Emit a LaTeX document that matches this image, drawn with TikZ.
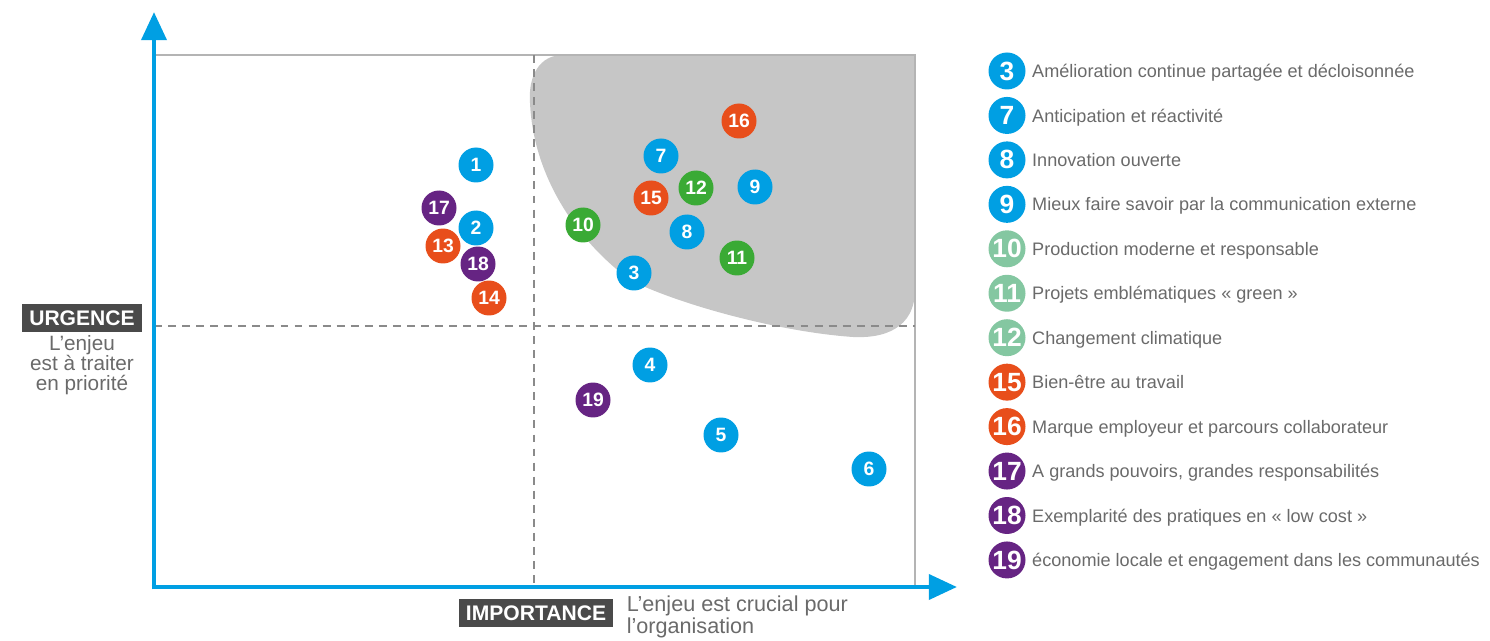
\documentclass[tikz,border=0pt]{standalone}
\usepackage{fontspec}
\setmainfont{Liberation Sans}
\usepackage{xcolor}
\usepackage{tikz}
\usetikzlibrary{positioning,arrows.meta}

\definecolor{axisblue}{HTML}{009FE3}
\definecolor{ptblue}{HTML}{009FE3}
\definecolor{ptorange}{HTML}{E84E1B}
\definecolor{ptpurple}{HTML}{662483}
\definecolor{ptgreen}{HTML}{3AAA35}
\definecolor{keygreen}{HTML}{84C7A1}
\definecolor{blobgray}{HTML}{C6C6C6}
\definecolor{framegray}{HTML}{B4B4B4}
\definecolor{dashgray}{HTML}{8A8A8A}
\definecolor{txtgray}{HTML}{6A6A6A}
\definecolor{tagdark}{HTML}{4A4A4A}

\begin{document}
\begin{tikzpicture}
      [ x=0.02cm, y=-0.02cm,
        dot/.style={circle, fill=#1, inner sep=0pt, minimum size=0.7cm,
                    text=white, font=\bfseries\fontsize{11}{11}\selectfont},
        key/.style={circle, fill=#1, inner sep=0pt, minimum size=0.74cm,
                    text=white, font=\bfseries\fontsize{15}{15}\selectfont},
        keytext/.style={right=0.12cm of #1, inner sep=0pt, text=txtgray, yshift=-0.04cm,
                    font=\fontsize{10.3}{12}\selectfont, text height=0.72em, text depth=0.2em},
        tag/.style={fill=tagdark, text=white, font=\bfseries\fontsize{12}{12}\selectfont,
                    inner xsep=4pt, minimum height=0.57cm},
        axis/.style={axisblue, line width=2.8pt, -{Triangle[length=16pt,width=14pt]}},
        guide/.style={dashgray, line width=0.8pt, dash pattern=on 4.5pt off 3.5pt}
      ]
      \useasboundingbox (0,0) rectangle (1490,641);

      % zone prioritaire
      \fill[blobgray] (915,55) -- (563,55)
          .. controls (540,55) and (528,75) .. (530,103)
          .. controls (533,170) and (570,235) .. (630,280)
          .. controls (680,305) and (780,332) .. (853,337)
          .. controls (895,339) and (915,320) .. (915,290) -- cycle;

      \coordinate (O)    at (154,587);
      \coordinate (ytip) at (154,12);
      \coordinate (xtip) at (957,587);
      \coordinate (tl)   at (154,55);
      \coordinate (tr)   at (915,55);
      \coordinate (br)   at (915,587);

      \draw[framegray, line width=1pt] (tl) -- (tr) -- (br);
      \draw[guide] (534,55) -- (534,587);
      \draw[guide] (154,326) -- (915,326);
      \draw[axis] ([yshift=-1.4pt]O) -- (ytip);
      \draw[axis] ([xshift=-1.4pt]O) -- (xtip);

      % enjeux
      \node[dot=ptblue]   (p1)  at (476,165) {1};
      \node[dot=ptpurple] (p17) at (439,208) {17};
      \node[dot=ptblue]   (p2)  at (476,228) {2};
      \node[dot=ptorange] (p13) at (443,246) {13};
      \node[dot=ptpurple] (p18) at (478,264) {18};
      \node[dot=ptorange] (p14) at (489,298) {14};
      \node[dot=ptgreen]  (p10) at (583,225) {10};
      \node[dot=ptblue]   (p3)  at (634,273) {3};
      \node[dot=ptorange] (p16) at (739,121) {16};
      \node[dot=ptblue]   (p7)  at (661,156) {7};
      \node[dot=ptgreen]  (p12) at (696,188) {12};
      \node[dot=ptblue]   (p9)  at (755,187) {9};
      \node[dot=ptorange] (p15) at (651,198) {15};
      \node[dot=ptblue]   (p8)  at (687,232) {8};
      \node[dot=ptgreen]  (p11) at (737,258) {11};
      \node[dot=ptblue]   (p4)  at (650,365) {4};
      \node[dot=ptpurple] (p19) at (593,400) {19};
      \node[dot=ptblue]   (p5)  at (721,435) {5};
      \node[dot=ptblue]   (p6)  at (869,469) {6};

      % axes
      \node[tag] (urg) at (82,318) {URGENCE};
      \node[below=0.06cm of urg, align=center, text=txtgray, inner sep=0pt,
            font=\fontsize{11.8}{11.2}\selectfont] (urgtxt)
            {L’enjeu\\est à traiter\\en priorité};
      \node[tag] (imp) at (536,613) {IMPORTANCE};
      \node[right=0.26cm of imp, align=left, text=txtgray, inner sep=0pt,
            font=\fontsize{12.3}{12.8}\selectfont, yshift=-0.08cm] (imptxt)
            {L’enjeu est crucial pour\\l’organisation};

      % legende
      \foreach \n/\c/\t [count=\i from 0] in
          {3/ptblue/{Amélioration continue partagée et décloisonnée},
           7/ptblue/{Anticipation et réactivité},
           8/ptblue/{Innovation ouverte},
           9/ptblue/{Mieux faire savoir par la communication externe},
           10/keygreen/{Production moderne et responsable},
           11/keygreen/{Projets emblématiques « green »},
           12/keygreen/{Changement climatique},
           15/ptorange/{Bien-être au travail},
           16/ptorange/{Marque employeur et parcours collaborateur},
           17/ptpurple/{A grands pouvoirs, grandes responsabilités},
           18/ptpurple/{Exemplarité des pratiques en « low cost »},
           19/ptpurple/{économie locale et engagement dans les communautés}}
      {
        \node[key=\c] (k\n) at (1007,71+44.45*\i) {\n};
        \node[keytext=k\n] (t\n) {\t};
      }
\end{tikzpicture}
\end{document}
